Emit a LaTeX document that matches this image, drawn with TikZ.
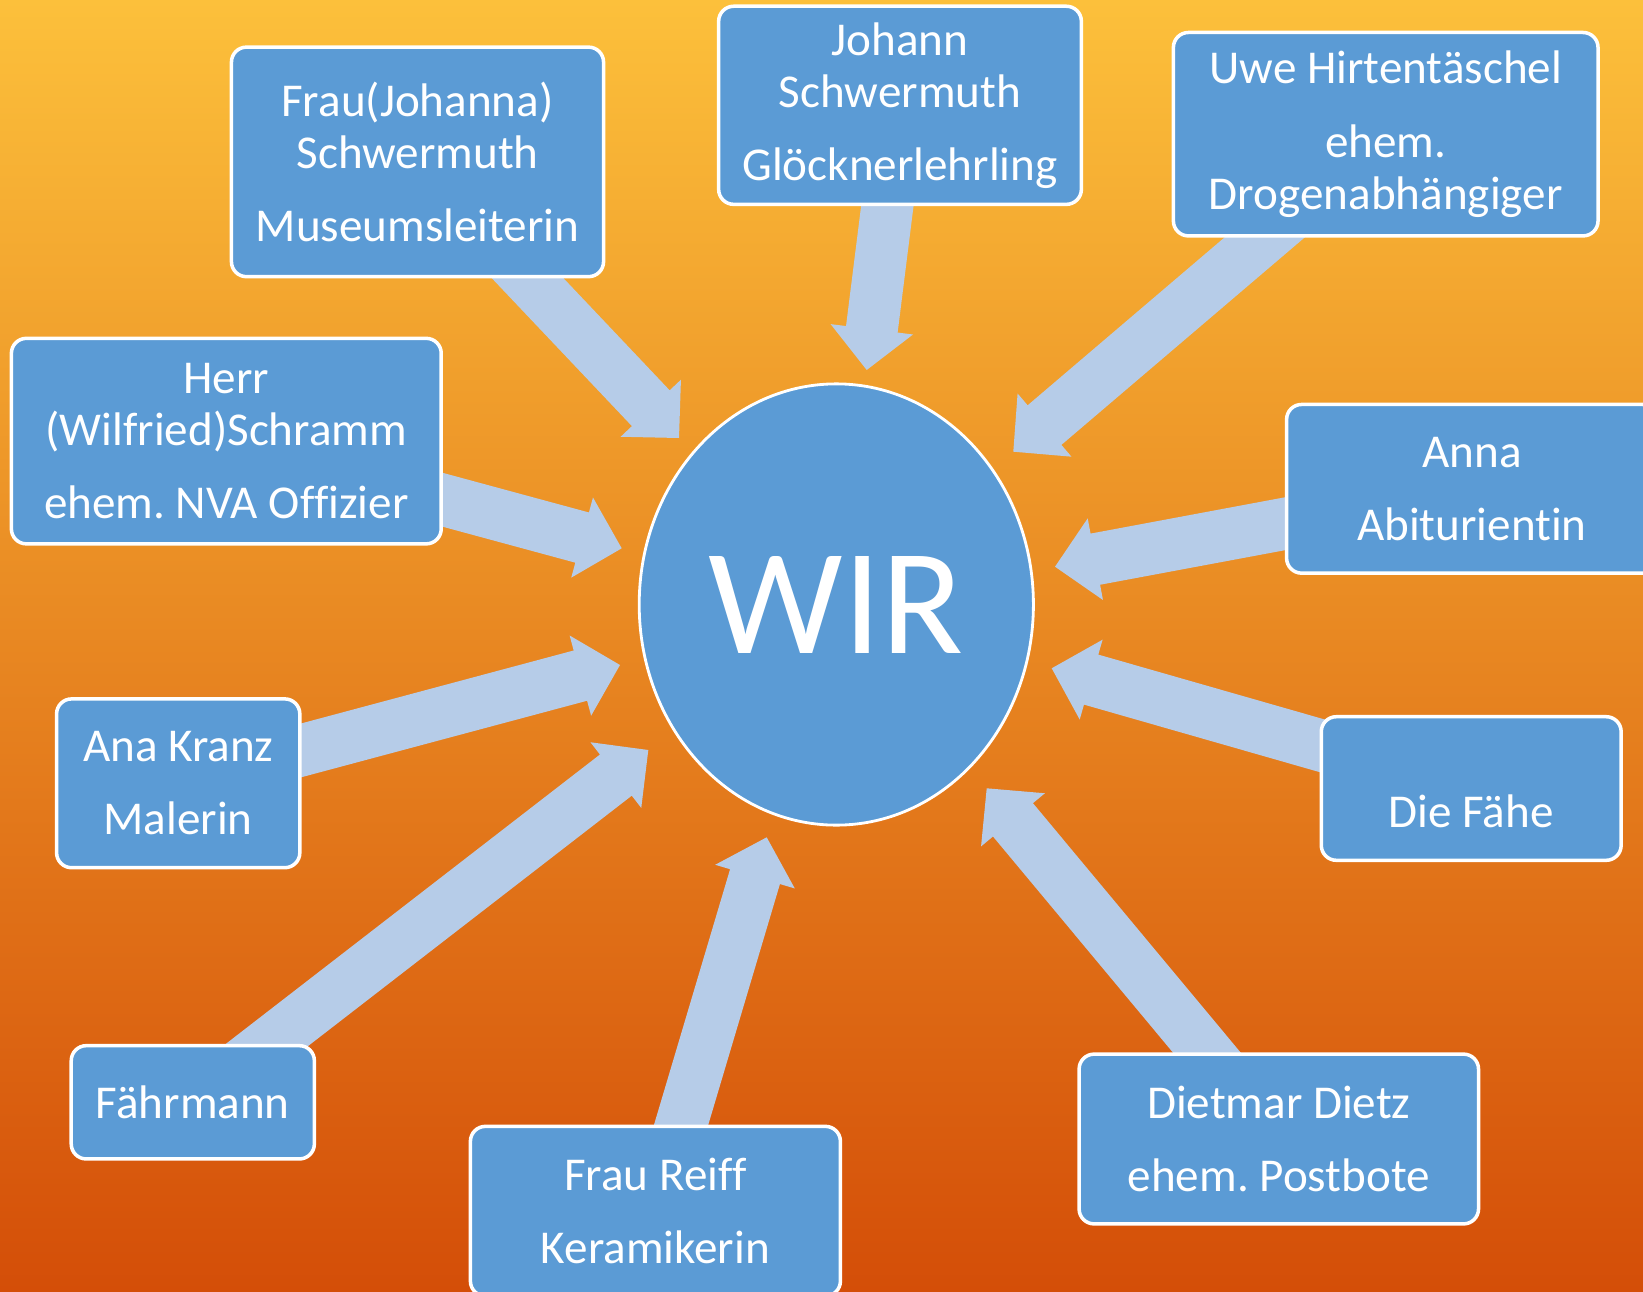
\documentclass[tikz,border=0pt]{standalone}
\usepackage{fontspec}
\setmainfont{Carlito}[Ligatures={NoCommon}]
\frenchspacing
\usetikzlibrary{calc,shapes.geometric}
\definecolor{boxblue}{HTML}{5B9BD5}
\definecolor{arrcol}{HTML}{B6CCE8}
\definecolor{bgtop}{HTML}{FCC03B}
\definecolor{bgmid}{HTML}{EC8D27}
\definecolor{bgbot}{HTML}{D44E08}
\pgfdeclarelayer{bglayer}
\pgfdeclarelayer{arrlayer}
\pgfsetlayers{bglayer,arrlayer,main}
\newcommand\blockarr[2]{%
  \coordinate (am) at ($(#2)!0.41cm!(#1.center)$);
  \fill[arrcol] ($(#1.center)!0.26cm!90:(#2)$) -- ($(am)!0.26cm!90:(#2)$) -- ($(am)!0.415cm!90:(#2)$) -- (#2) -- ($(am)!0.415cm!-90:(#2)$) -- ($(am)!0.26cm!-90:(#2)$) -- ($(#1.center)!0.26cm!-90:(#2)$) -- cycle;}
\begin{document}
\frenchspacing
\begin{tikzpicture}[x=0.01cm,y=-0.01cm,
  pbox/.style={draw=white, line width=1pt, fill=boxblue, rounded corners=0.15cm,
    text=white, align=center, inner sep=0pt,
    font=\fontsize{13.4pt}{14.8pt}\selectfont},
  ptext/.style={text=white, align=center, inner sep=0pt,
    font=\fontsize{13.4pt}{14.8pt}\selectfont}]
\useasboundingbox (0,0) rectangle (1643,1291);
\begin{pgfonlayer}{bglayer}
  \shade[top color=bgtop, middle color=bgmid, bottom color=bgbot] (0,0) rectangle (1643,1291);
\end{pgfonlayer}

\node[pbox, minimum width=3.719cm, minimum height=2.294cm] (b1) at (417.5,161.9) {Frau(Johanna)\\Schwermuth\\[6pt]Museumsleiterin};
\node[pbox, minimum width=3.625cm, minimum height=1.98cm] (b2) at (900,105.3) {Johann\\Schwermuth\\[6pt]Glöcknerlehrling};
\node[pbox, minimum width=4.244cm, minimum height=2.033cm] (b3) at (1385.7,134.2) {Uwe Hirtentäschel\\[6pt]ehem.\\Drogenabhängiger};
\node[pbox, minimum width=4.296cm, minimum height=2.054cm] (b4) at (226.3,441.1) {Herr\\(Wilfried)Schramm\\[6pt]ehem. NVA Offizier};
\node[pbox, minimum width=3.704cm, minimum height=1.686cm] (b5) at (1471.9,488.8) {Anna\\[6pt]Abiturientin};
\node[pbox, minimum width=2.431cm, minimum height=1.687cm] (b6) at (178.2,783.3) {Ana Kranz\\[6pt]Malerin};
\node[pbox, minimum width=2.997cm, minimum height=1.435cm] (b7) at (1471.2,788.5) {};
\node[ptext] (t7) at (1471.2,811) {Die Fähe};
\node[pbox, minimum width=2.43cm, minimum height=1.132cm] (b8) at (192.8,1102.3) {Fährmann};
\node[pbox, minimum width=3.698cm, minimum height=1.696cm] (b9) at (655.4,1211.2) {Frau Reiff\\[6pt]Keramikerin};
\node[pbox, minimum width=3.992cm, minimum height=1.697cm] (b10) at (1278.8,1139) {Dietmar Dietz\\[6pt]ehem. Postbote};

\node[ellipse, draw=white, line width=0.8pt, fill=boxblue, minimum width=3.94cm, minimum height=4.41cm, inner sep=0pt, text=white, font=\fontsize{43pt}{43pt}\selectfont] (wir) at (836.3,604.5) {WIR};

\coordinate (p1) at (679,438);
\coordinate (p2) at (866.7,370);
\coordinate (p3) at (1013.3,451.7);
\coordinate (p4) at (621.7,548.3);
\coordinate (p5) at (1055,566.7);
\coordinate (p6) at (620,665);
\coordinate (p7) at (1051.7,668.3);
\coordinate (p8) at (648.3,750);
\coordinate (p9) at (766.7,837.3);
\coordinate (p10) at (986.7,788.3);

\begin{pgfonlayer}{arrlayer}
  \blockarr{b1}{p1}
  \blockarr{b2}{p2}
  \blockarr{b3}{p3}
  \blockarr{b4}{p4}
  \blockarr{b5}{p5}
  \blockarr{b6}{p6}
  \blockarr{b7}{p7}
  \blockarr{b8}{p8}
  \blockarr{b9}{p9}
  \blockarr{b10}{p10}
\end{pgfonlayer}
\end{tikzpicture}
\end{document}
